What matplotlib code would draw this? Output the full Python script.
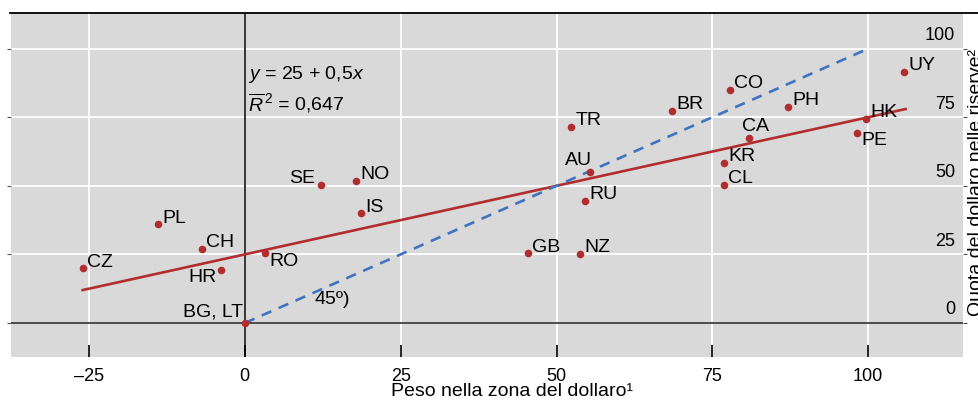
import matplotlib
matplotlib.use("Agg")
import matplotlib.pyplot as plt
import numpy as np

plt.rcParams['font.family'] = ['Liberation Sans', 'DejaVu Sans']
plt.rcParams['mathtext.fontset'] = 'custom'
plt.rcParams['mathtext.rm'] = 'Liberation Sans'
plt.rcParams['mathtext.it'] = 'Liberation Sans:italic'

# dati: peso nella zona del dollaro (x) e quota del dollaro nelle riserve (y)
paesi = ['CZ', 'PL', 'CH', 'HR', 'RO', 'BG, LT', 'SE', 'NO', 'IS', 'GB', 'NZ', 'RU',
         'AU', 'TR', 'BR', 'CO', 'PH', 'CA', 'KR', 'CL', 'HK', 'PE', 'UY']
peso = [-26.0, -13.9, -6.9, -3.8, 3.2, 0.0, 12.2, 17.9, 18.6, 45.4, 53.8, 54.6,
        55.3, 52.4, 68.6, 77.9, 87.2, 80.8, 76.9, 76.9, 99.7, 98.2, 105.8]
quota = [20.0, 36.0, 27.0, 19.3, 25.5, 0.0, 50.4, 51.8, 40.0, 25.5, 25.2, 44.5,
         55.0, 71.5, 77.4, 85.0, 78.8, 67.5, 58.4, 50.4, 74.5, 69.3, 91.6]
xticks = [-25, 0, 25, 50, 75, 100]
yticks = [0, 25, 50, 75, 100]
retta_x = [-26, 106]          # estremi della retta di regressione
bisettrice = [0, 100]         # linea a 45 gradi

# posizione delle etichette (offset in pixel, allineamento)
etichette = {'HR': (-4, -7, 'right'), 'RO': (5, -8, 'left'), 'BG, LT': (-2, 11, 'right'),
             'SE': (-6, 6, 'right'), 'AU': (2, 12, 'right'), 'CA': (7, 11, 'center'),
             'PE': (4, -8, 'left')}

rosso = '#b22d2d'
blu = '#3f74c2'
px = 0.72  # punti per pixel a dpi 100
fs = 14

fig = plt.figure(figsize=(9.79, 4.03), dpi=100)
ax = fig.add_axes([11/979, 1-357/403, (963-11)/979, (357-13)/403])
ax.set_facecolor('#d9d9d9')
ax.set_xlim(-37.5, 115.2)
ax.set_ylim(-12.4, 113)

for v in xticks:
    ax.axvline(v, color='white', lw=1.3, zorder=0)
for v in yticks[1:]:
    ax.axhline(v, color='white', lw=1.3, zorder=0)
ax.axvline(0, color='black', lw=1.1, zorder=1)
ax.axhline(0, color='#333333', lw=1.2, zorder=1)

rx = np.array(retta_x)
ax.plot(rx, 25 + 0.5 * rx, color=rosso, lw=1.9, zorder=2)
ax.plot(bisettrice, bisettrice, color=blu, lw=1.9, dashes=(4, 3), zorder=2)
ax.scatter(peso, quota, s=30, color=rosso, zorder=3, linewidths=0)

for p, x, y in zip(paesi, peso, quota):
    dx, dy, ha = etichette.get(p, (4, 6, 'left'))
    ax.annotate(p, (x, y), xytext=(dx*px, dy*px), textcoords='offset points',
                ha=ha, va='center', fontsize=fs)

ax.text(0.5, 90.5, r'$y$ = 25 + 0,5$x$', fontsize=fs, va='center', ha='left')
ax.text(0.5, 80.3, r'$\overline{R}^{\,2}$ = 0,647', fontsize=fs, va='center', ha='left')
ax.text(11.2, 8.4, '45º)', fontsize=fs, va='center', ha='left')

for s in ax.spines.values():
    s.set_visible(False)
ax.set_xticks(xticks)
ax.set_xticklabels([f'{v}'.replace('-', '\u2013') for v in xticks], fontsize=13)
ax.tick_params(axis='x', direction='in', length=9, width=1.2, pad=8, color='black')
ax.set_yticks(yticks)
ax.tick_params(axis='y', left=True, right=True, labelleft=False, direction='out',
               length=3, width=0.8, color='#555555')
for v in yticks:
    ax.annotate(str(v), (1, v), xycoords=('axes fraction', 'data'),
                xytext=(-8*px, 13*px), textcoords='offset points',
                ha='right', va='center', fontsize=13)

fig.add_artist(plt.Line2D([10/979, 1], [1-13/403, 1-13/403], color='black', lw=1.3))
fig.text(512/979, 1-392/403, 'Peso nella zona del dollaro\u00b9', fontsize=fs,
         ha='center', va='center')
fig.text(968/979, 1-183/403, 'Quota del dollaro nelle riserve\u00b2', fontsize=fs,
         rotation=90, ha='left', va='center')

fig.savefig('out.png', dpi=100)
